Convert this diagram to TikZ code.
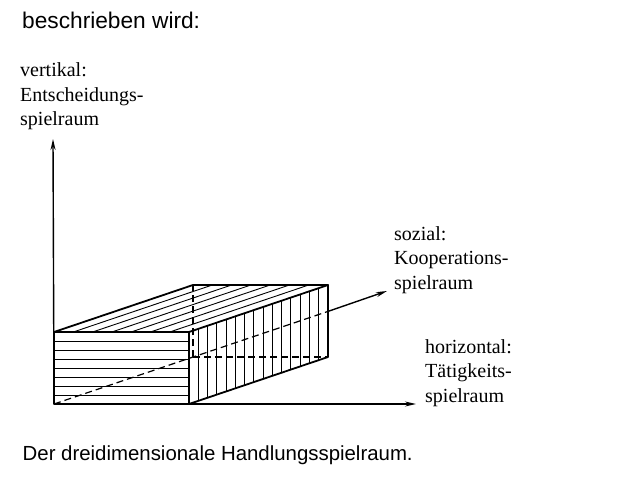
\documentclass[tikz,border=0pt]{standalone}
\usepackage{fontspec}
\setmainfont{Liberation Serif}
\newfontfamily\arialfont{Liberation Sans}
\usetikzlibrary{arrows.meta}
\begin{document}
\begin{tikzpicture}[x=1pt,y=-1pt,
  outline/.style={line width=1.8pt, line join=round, line cap=round},
  hatch/.style={line width=0.9pt},
  axis/.style={line width=1.4pt},
  hidden/.style={line width=1.2pt, dash pattern=on 7pt off 4pt},
  tip/.style={-{Stealth[length=11pt,width=5pt]}},
  lab/.style={font=\fontsize{20}{24.5}\selectfont, anchor=base west, inner sep=0pt, align=left},
  sans/.style={font=\arialfont\fontsize{20.4}{24}\selectfont, anchor=base west, inner sep=0pt}]
\useasboundingbox (0,0) rectangle (620,492);
% corners of the box
\coordinate (O) at (54,404);
\coordinate (B) at (189,404);
\coordinate (C) at (189,332);
\coordinate (D) at (54,332);
\coordinate (A2) at (193,357);
\coordinate (B2) at (328,357);
\coordinate (C2) at (328,285);
\coordinate (D2) at (193,285);
\coordinate (E) at (328,311.4);
\coordinate (Vtip) at (53,139);
\coordinate (Htip) at (416,404);
\coordinate (Stip) at (387,291);
% hatching
\foreach \k in {1,...,7} \draw[hatch] (54,{332+9*\k}) -- (189,{332+9*\k});
\foreach \k in {1,...,6} \draw[hatch] ({54+135*\k/7},332) -- ++(139,-47);
\foreach \k in {1,...,14} \draw[hatch] ({189+139*\k/15},{332-47*\k/15}) -- ++(0,72);
% hidden edges
\draw[hidden] (A2) -- (B2);
\draw[hidden] (A2) -- (D2);
\draw[hidden] (O) -- (E);
% axes
\draw[axis,tip] (O) -- (Vtip);
\draw[axis,tip] (O) -- (Htip);
\draw[axis,tip] (E) -- (Stip);
% box outline
\draw[outline] (O) -- (B) -- (C) -- (D) -- cycle;
\draw[outline] (D) -- (D2) -- (C2) -- (C);
\draw[outline] (B) -- (B2) -- (C2);
% texts (base anchor = baseline of the last line)
\node[sans, font=\arialfont\fontsize{22.7}{26}\selectfont] (head) at (22,29) {beschrieben wird:};
\node[lab] (vert) at (20,125.7) {vertikal:\\Entscheidungs-\\spielraum};
\node[lab] (soz) at (394,289) {sozial:\\Kooperations-\\spielraum};
\node[lab] (hor) at (425,402) {horizontal:\\Tätigkeits-\\spielraum};
\node[sans] (caption) at (22.5,460.5) {Der dreidimensionale Handlungsspielraum.};
\end{tikzpicture}
\end{document}
